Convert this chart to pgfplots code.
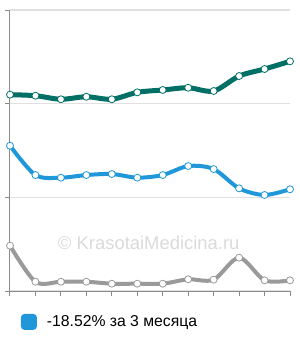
\documentclass[border=0pt]{standalone}
\usepackage{fontspec}
\setmainfont{Liberation Sans}
\usepackage{pgfplots}
\pgfplotsset{compat=1.18}
\definecolor{teal1}{HTML}{006F65}
\definecolor{blue1}{HTML}{1F97D9}
\definecolor{gray1}{HTML}{9A9A9A}
\definecolor{gridc}{HTML}{E0E0E0}
\definecolor{axisc}{HTML}{8C8C8C}
\definecolor{wm}{HTML}{DADADA}
\begin{document}
\begin{tikzpicture}
\begin{axis}[
  name=ax,
  scale only axis,
  width=280bp, height=281bp,
  xmin=0, xmax=11, ymin=0, ymax=3,
  axis lines*=left,
  axis line style={axisc, line width=1bp},
  xtick={0,...,11}, ytick={0,1,2,3},
  xticklabels={}, yticklabels={},
  tick align=outside, major tick length=5bp,
  tick style={axisc, line width=1bp},
  ymajorgrids, grid style={gridc, line width=1.5bp},
  clip=false,
  legend style={at={(0.039,-0.110)}, anchor=west, draw=none, fill=none,
    inner sep=0pt, outer sep=0pt, font=\fontsize{15.8}{18}\selectfont,
    /tikz/every odd column/.append style={column sep=8bp}},
  legend cell align=left,
  legend image code/.code={\fill[blue1, rounded corners=2bp] (0bp,-6bp) rectangle (12bp,6bp);},
]
\node[text=wm, font=\fontsize{18.5}{20}\selectfont] at (axis cs:5.45,0.51) {© KrasotaiMedicina.ru};
\addplot[teal1, line width=5bp, smooth, mark=*, mark size=3.5bp,
  mark options={fill=white, draw=teal1, line width=0.8bp}, forget plot]
  coordinates {(0,2.096) (1,2.085) (2,2.047) (3,2.074) (4,2.047) (5,2.121)
    (6,2.146) (7,2.170) (8,2.135) (9,2.295) (10,2.370) (11,2.452)};
\addplot[blue1, line width=4bp, smooth, mark=*, mark size=3.5bp,
  mark options={fill=white, draw=blue1, line width=0.8bp}]
  coordinates {(0,1.551) (1,1.238) (2,1.210) (3,1.238) (4,1.249) (5,1.210)
    (6,1.238) (7,1.334) (8,1.302) (9,1.096) (10,1.025) (11,1.086)};
\addlegendentry{-18.52\% за 3 месяца}
\addplot[gray1, line width=4bp, smooth, mark=*, mark size=3.5bp,
  mark options={fill=white, draw=gray1, line width=0.8bp}, forget plot]
  coordinates {(0,0.484) (1,0.099) (2,0.099) (3,0.099) (4,0.078) (5,0.078)
    (6,0.078) (7,0.125) (8,0.121) (9,0.356) (10,0.114) (11,0.114)};
\end{axis}
\pgfresetboundingbox
\path (ax.south west) ++(-10bp,-49bp) rectangle ++(300bp,340bp);
\end{tikzpicture}
\end{document}
